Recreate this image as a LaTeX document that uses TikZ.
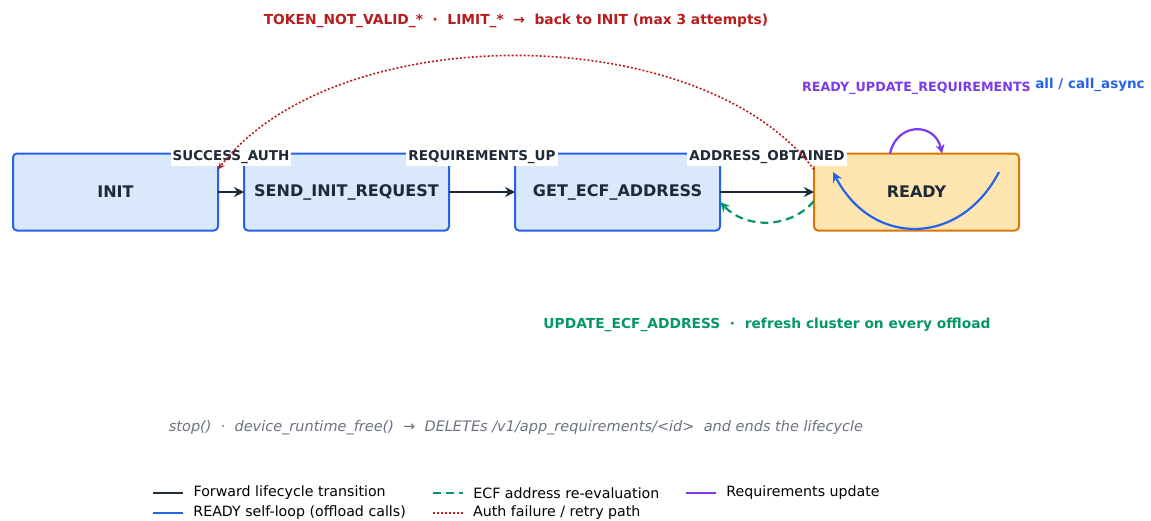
\documentclass[tikz,border=0pt]{standalone}
\usepackage{fontspec}
\setmainfont{DejaVu Sans}
\usetikzlibrary{arrows.meta,positioning}

\definecolor{ink}{HTML}{1F2937}
\definecolor{boxfill}{HTML}{DAE8FC}
\definecolor{boxline}{HTML}{2563EB}
\definecolor{readyfill}{HTML}{FFE5B0}
\definecolor{readyline}{HTML}{D97706}
\definecolor{ecfgreen}{HTML}{059669}
\definecolor{failred}{HTML}{B91C1C}
\definecolor{reqpurple}{HTML}{7C3AED}
\definecolor{notegray}{HTML}{6B7280}

\tikzset{
  state/.style={draw=boxline,fill=boxfill,line width=2pt,rounded corners=4pt,outer sep=0pt,
    minimum width=205pt,minimum height=77pt,text=ink,
    font=\bfseries\fontsize{16}{19}\selectfont},
  lbl/.style={fill=white,inner sep=2pt,text=ink,font=\bfseries\fontsize{13.5}{16}\selectfont},
  fwd/.style={draw=ink,line width=2.5pt},
  selfloop/.style={draw=boxline,line width=2.2pt},
  ecf/.style={draw=ecfgreen,line width=2.2pt,dash pattern=on 8pt off 5pt},
  retry/.style={draw=failred,line width=1.6pt,dash pattern=on 2pt off 2pt},
  requpd/.style={draw=reqpurple,line width=2.2pt},
}

\begin{document}
\begin{tikzpicture}[x=1pt,y=-1pt]
\useasboundingbox (0,0) rectangle (1151,520);

% states
\node[state] (init) at (115.5,192) {INIT};
\node[state,right=26pt of init] (send) {SEND\_INIT\_REQUEST};
\node[state,right=66pt of send] (get) {GET\_ECF\_ADDRESS};
\node[state,right=94pt of get,draw=readyline,fill=readyfill] (ready) {READY};

% forward transitions
\draw[fwd,-{Stealth[length=10pt,width=10pt]}] (init) -- node[lbl,yshift=35pt]{SUCCESS\_AUTH} (send);
\draw[fwd,-{Stealth[length=10pt,width=10pt]}] (send) -- node[lbl,yshift=35pt]{REQUIREMENTS\_UP} (get);
\draw[fwd,-{Stealth[length=10pt,width=10pt]}] (get) -- node[lbl,yshift=35pt]{ADDRESS\_OBTAINED} (ready);

% auth failure / retry
\draw[retry,-{Stealth[length=7pt,width=6pt]}] ([yshift=-16pt]ready.north west)
  .. controls (700,18) and (334,18) .. ([yshift=-16pt]init.north east);
\node[text=failred,font=\bfseries\fontsize{13.8}{16}\selectfont] (failnote) at (516,21)
  {TOKEN\_NOT\_VALID\_*~~·~~LIMIT\_*~~→~~back to INIT (max 3 attempts)};

% ecf re-evaluation
\draw[ecf,-{Stealth[length=10pt,width=9pt]}] ([yshift=-9pt]ready.west)
  .. controls (790,229) and (746,229) .. ([yshift=-10pt]get.east);
\node[text=ecfgreen,font=\bfseries\fontsize{13.8}{16}\selectfont] (ecfnote) at (767,325)
  {UPDATE\_ECF\_ADDRESS~~·~~refresh cluster on every offload};

% ready self-loop
\coordinate (loopstart) at (999,172);
\draw[selfloop,-{Stealth[length=10pt,width=10pt]}] (loopstart)
  .. controls (960,247) and (872,247) .. (833,172);
\node[text=boxline,font=\bfseries\fontsize{13.5}{16}\selectfont] (loopnote) at (1090,85) {all / call\_async};

% requirements update
\draw[requpd,-{Stealth[length=9pt,width=9pt]}] ([xshift=-26.5pt]ready.north)
  .. controls (897,122) and (935,122) .. ([xshift=25.5pt]ready.north);
\node[text=reqpurple,font=\bfseries\fontsize{12.7}{15}\selectfont] (reqnote) at (916.5,88) {READY\_UPDATE\_REQUIREMENTS};

% footer note
\node[text=notegray,font=\itshape\fontsize{14.5}{17}\selectfont] (stopnote) at (516,428)
  {stop()~~·~~device\_runtime\_free()~~→~~DELETEs /v1/app\_requirements/<id>~~and ends the lifecycle};

% legend
\foreach \x/\y/\sty/\txt in {153/493/fwd/{Forward lifecycle transition},
                             153/513/selfloop/{READY self-loop (offload calls)},
                             433/493/ecf/{ECF address re-evaluation},
                             433/513/retry/{Auth failure / retry path},
                             686/493/requpd/{Requirements update}}
  \draw[\sty] (\x,\y) -- ++(30,0) node[anchor=west,xshift=6pt,text=black,font=\fontsize{14.2}{17}\selectfont]{\txt};
\end{tikzpicture}
\end{document}
